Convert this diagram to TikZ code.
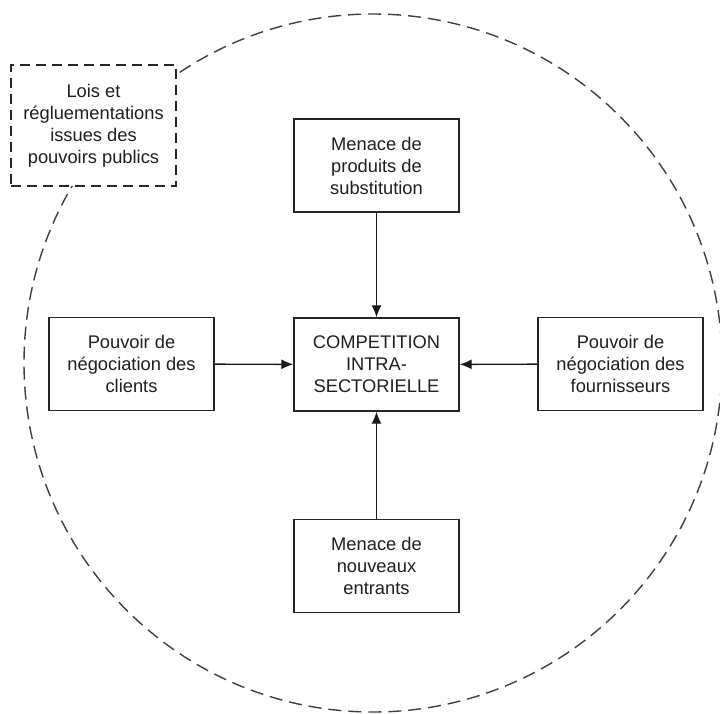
\documentclass[tikz,border=0pt]{standalone}
\usepackage{fontspec}
\setmainfont{Liberation Sans}
\usetikzlibrary{arrows.meta}
\tikzset{
  force/.style={draw=black!85, line width=1.4pt, fill=white, minimum width=165pt, minimum height=93pt, align=center, inner sep=2pt, font=\fontsize{18.3}{22}\selectfont, text=black!88},
  lawbox/.style={force, dashed, dash pattern=on 10pt off 6pt, minimum height=121pt},
  conn/.style={draw=black!90, line width=1.4pt, -{Latex[length=12pt,width=10pt]}},
  border/.style={draw=black!75, line width=1.4pt, dash pattern=on 13pt off 7pt}
}
\begin{document}
\begin{tikzpicture}[x=1pt,y=-1pt]
\useasboundingbox (0,0) rectangle (720,713);
\clip (0,0) rectangle (720,713);
\fill[white] (0,0) rectangle (720,713);
\draw[border] (373,363) circle[radius=349];
\node[lawbox] (laws) at (93.5,125.5) {Lois et\\régluementations\\issues des\\pouvoirs publics};
\node[force] (top) at (376.5,165.5) {Menace de\\produits de\\substitution};
\node[force] (center) at (376.5,364.5) {COMPETITION\\INTRA-\\SECTORIELLE};
\node[force] (left) at (131.5,364) {Pouvoir de\\négociation des\\clients};
\node[force] (right) at (620.5,364) {Pouvoir de\\négociation des\\fournisseurs};
\node[force] (bottom) at (376.5,566) {Menace de\\nouveaux\\entrants};
\draw[conn] (top) -- (center);
\draw[conn] (left) -- (center);
\draw[conn] (right) -- (center);
\draw[conn] (bottom) -- (center);
\end{tikzpicture}
\end{document}
